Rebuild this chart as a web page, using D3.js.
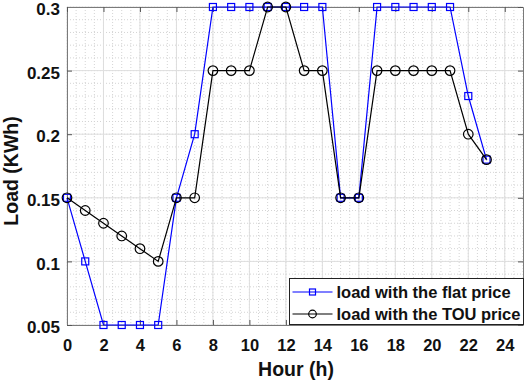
<!DOCTYPE html>
<html>
<head>
<meta charset="utf-8">
<script src="https://cdn.jsdelivr.net/npm/d3@7"></script>
<style>
  body { margin: 0; background: #fff; }
  text { font-family: "Liberation Sans", Arial, sans-serif; font-weight: bold; }
</style>
</head>
<body>
<svg id="chart" width="526" height="382"></svg>
<script>
const hours = d3.range(0, 24);
const flatLoad = [0.15, 0.10, 0.05, 0.05, 0.05, 0.05, 0.15, 0.20, 0.30, 0.30, 0.30, 0.30,
                  0.30, 0.30, 0.30, 0.15, 0.15, 0.30, 0.30, 0.30, 0.30, 0.30, 0.23, 0.18];
const touLoad = [0.15, 0.14, 0.13, 0.12, 0.11, 0.10, 0.15, 0.15, 0.25, 0.25, 0.25, 0.30,
                 0.30, 0.25, 0.25, 0.15, 0.15, 0.25, 0.25, 0.25, 0.25, 0.25, 0.20, 0.18];
const xTicks = d3.range(0, 25, 2);
const yTicks = [0.05, 0.1, 0.15, 0.2, 0.25, 0.3];
const legendLabels = ["load with the flat price", "load with the TOU price"];

const svg = d3.select("#chart");
const margin = {left: 67, top: 7, right: 3, bottom: 57};
const width = 526 - margin.left - margin.right;
const height = 382 - margin.top - margin.bottom;

const x = d3.scaleLinear().domain([0, 25]).range([0, width]);
const y = d3.scaleLinear().domain([0.05, 0.3]).range([height, 0]);

const g = svg.append("g").attr("transform", `translate(${margin.left}, ${margin.top})`);

// minor grid
g.append("g").selectAll("line")
  .data(d3.range(0, 25.01, 0.5))
  .join("line")
  .attr("x1", d => x(d)).attr("x2", d => x(d))
  .attr("y1", 0).attr("y2", height)
  .attr("stroke", "#d4d4d4").attr("stroke-dasharray", "1,2");
g.append("g").selectAll("line")
  .data(d3.range(5, 31).map(d => d / 100))
  .join("line")
  .attr("x1", 0).attr("x2", width)
  .attr("y1", d => y(d)).attr("y2", d => y(d))
  .attr("stroke", "#d4d4d4").attr("stroke-dasharray", "1,2");

// major grid
g.append("g").selectAll("line")
  .data(xTicks)
  .join("line")
  .attr("x1", d => x(d)).attr("x2", d => x(d))
  .attr("y1", 0).attr("y2", height)
  .attr("stroke", "#dedede");
g.append("g").selectAll("line")
  .data(yTicks)
  .join("line")
  .attr("x1", 0).attr("x2", width)
  .attr("y1", d => y(d)).attr("y2", d => y(d))
  .attr("stroke", "#dedede");

// axes
const xAxis = d3.axisBottom(x).tickValues(xTicks).tickSizeInner(-5).tickSizeOuter(0).tickPadding(14);
const yAxis = d3.axisLeft(y).tickValues(yTicks).tickSizeInner(-5).tickSizeOuter(0).tickPadding(7)
  .tickFormat(d => String(+d.toFixed(2)));

g.append("g")
  .attr("transform", `translate(0, ${height})`)
  .call(xAxis)
  .call(a => a.select(".domain").attr("stroke", "#7a7a7a"))
  .call(a => a.selectAll(".tick line").attr("stroke", "#555"))
  .call(a => a.selectAll("text").attr("font-size", 16.5).attr("fill", "#111"));
g.append("g")
  .call(yAxis)
  .call(a => a.select(".domain").attr("stroke", "#7a7a7a"))
  .call(a => a.selectAll(".tick line").attr("stroke", "#555"))
  .call(a => a.selectAll("text").attr("font-size", 17).attr("dy", "0.45em").attr("fill", "#111"));
g.append("g")
  .call(d3.axisTop(x).tickValues(xTicks).tickSizeInner(-5).tickSizeOuter(0).tickFormat(""))
  .call(a => a.select(".domain").attr("stroke", "#7a7a7a"))
  .call(a => a.selectAll(".tick line").attr("stroke", "#555"));
g.append("g")
  .attr("transform", `translate(${width}, 0)`)
  .call(d3.axisRight(y).tickValues(yTicks).tickSizeInner(-5).tickSizeOuter(0).tickFormat(""))
  .call(a => a.select(".domain").attr("stroke", "#7a7a7a"))
  .call(a => a.selectAll(".tick line").attr("stroke", "#555"));

// axis titles
svg.append("text")
  .attr("x", 296).attr("y", 376)
  .attr("text-anchor", "middle").attr("font-size", 19.5).attr("fill", "#111")
  .text("Hour (h)");
svg.append("text")
  .attr("transform", `translate(18, 171) rotate(-90)`)
  .attr("text-anchor", "middle").attr("font-size", 19.5).attr("fill", "#111")
  .text("Load (KWh)");

// lines
const line = d3.line().x(d => x(d[0])).y(d => y(d[1]));
const flatPts = hours.map((h, i) => [h, flatLoad[i]]);
const touPts = hours.map((h, i) => [h, touLoad[i]]);

g.append("path").datum(flatPts).attr("d", line)
  .attr("fill", "none").attr("stroke", "#0000ff").attr("stroke-width", 1.2);
g.append("g").selectAll("rect").data(flatPts).join("rect")
  .attr("x", d => x(d[0]) - 3.5).attr("y", d => y(d[1]) - 3.5)
  .attr("width", 7).attr("height", 7)
  .attr("fill", "none").attr("stroke", "#0000ff").attr("stroke-width", 1.2);

g.append("path").datum(touPts).attr("d", line)
  .attr("fill", "none").attr("stroke", "#000").attr("stroke-width", 1.2);
g.append("g").selectAll("circle").data(touPts).join("circle")
  .attr("cx", d => x(d[0])).attr("cy", d => y(d[1])).attr("r", 4.8)
  .attr("fill", "none").attr("stroke", "#000").attr("stroke-width", 1.2);

// legend
const legend = svg.append("g").attr("transform", "translate(289.5, 278.5)");
legend.append("rect")
  .attr("width", 234).attr("height", 46)
  .attr("fill", "#fff").attr("stroke", "#222").attr("stroke-width", 1);
const colors = ["#0000ff", "#000"];
legendLabels.forEach((label, i) => {
  const ly = 13.5 + i * 22;
  legend.append("line")
    .attr("x1", 3).attr("x2", 43).attr("y1", ly).attr("y2", ly)
    .attr("stroke", colors[i]).attr("stroke-width", 1.2);
  if (i === 0) {
    legend.append("rect").attr("x", 20).attr("y", ly - 3).attr("width", 6).attr("height", 6)
      .attr("fill", "none").attr("stroke", colors[i]).attr("stroke-width", 1.2);
  } else {
    legend.append("circle").attr("cx", 23).attr("cy", ly).attr("r", 3.8)
      .attr("fill", "none").attr("stroke", colors[i]).attr("stroke-width", 1.2);
  }
  legend.append("text")
    .attr("x", 47).attr("y", ly).attr("dy", "0.35em")
    .attr("font-size", 16.5).attr("fill", "#111")
    .text(label);
});
</script>
</body>
</html>
